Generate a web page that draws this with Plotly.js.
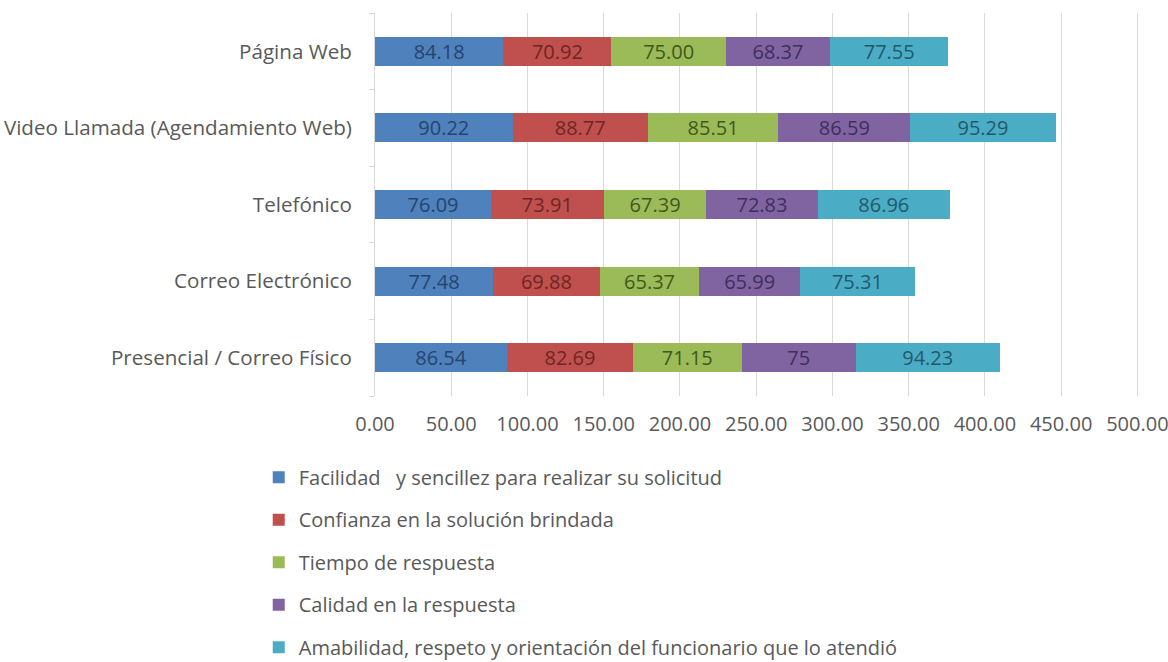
<!DOCTYPE html>
<html>
<head>
<meta charset="utf-8">
<script src="https://cdn.plot.ly/plotly-3.0.1.min.js"></script>
<style>html,body{margin:0;padding:0;background:#fff;}#chart{width:1168px;height:662px;}</style>
</head>
<body>
<div id="chart"></div>
<script>
// Categories (bottom to top)
const categories = ["Presencial / Correo Físico", "Correo Electrónico", "Telefónico", "Video Llamada (Agendamiento Web)", "Página Web"];

// Series values (as shown in the data labels)
const facilidad  = ["86.54", "77.48", "76.09", "90.22", "84.18"];
const confianza  = ["82.69", "69.88", "73.91", "88.77", "70.92"];
const tiempo     = ["71.15", "65.37", "67.39", "85.51", "75.00"];
const calidad    = ["75",    "65.99", "72.83", "86.59", "68.37"];
const amabilidad = ["94.23", "75.31", "86.96", "95.29", "77.55"];

const seriesNames = [
  "Facilidad\u00a0\u00a0\u00a0y sencillez para realizar su solicitud",
  "Confianza en la solución brindada",
  "Tiempo de respuesta",
  "Calidad en la respuesta",
  "Amabilidad, respeto y orientación del funcionario que lo atendió"
];

const xTickVals = [0, 50, 100, 150, 200, 250, 300, 350, 400, 450, 500];
const xTickText = ["0.00", "50.00", "100.00", "150.00", "200.00", "250.00", "300.00", "350.00", "400.00", "450.00", "500.00"];

const seriesData = [facilidad, confianza, tiempo, calidad, amabilidad];
const barColors = ["#4F81BD", "#C0504D", "#9BBB59", "#8064A2", "#4BACC6"];
const labelColors = ["#27446e", "#6e2624", "#41591c", "#3f2f5a", "#225a6a"];

const traces = seriesData.map((vals, i) => ({
  type: "bar",
  orientation: "h",
  name: seriesNames[i],
  legendgroup: "g" + i,
  y: categories,
  x: vals.map(Number),
  text: vals,
  textposition: "inside",
  insidetextanchor: "middle",
  textangle: 0,
  constraintext: "none",
  textfont: {family: "Open Sans", size: 20, color: labelColors[i]},
  marker: {color: barColors[i], line: {width: 0}},
  hoverinfo: "skip"
}));

const layout = {
  width: 1168,
  height: 662,
  margin: {l: 375, r: 23, t: 13, b: 266, pad: 0, autoexpand: false},
  paper_bgcolor: "#ffffff",
  plot_bgcolor: "#ffffff",
  barmode: "stack",
  bargap: 0.62,
  font: {family: "Open Sans", size: 20, color: "#595959"},
  showlegend: true,
  legend: {
    orientation: "v",
    x: -0.151, xanchor: "left",
    y: -0.161, yanchor: "top",
    traceorder: "grouped",
    tracegroupgap: 13.5,
    font: {family: "Open Sans", size: 20, color: "#595959"},
    bgcolor: "rgba(0,0,0,0)"
  },
  xaxis: {
    range: [0, 505],
    tickmode: "array",
    tickvals: xTickVals,
    ticktext: xTickText,
    showgrid: true,
    gridcolor: "#d9d9d9",
    gridwidth: 1,
    zeroline: false,
    showline: false,
    ticks: "",
    ticklabelstandoff: 14,
    ticklabeloverflow: "allow",
    tickfont: {family: "Open Sans", size: 20, color: "#595959"},
    fixedrange: true
  },
  yaxis: {
    type: "category",
    categoryorder: "array",
    categoryarray: categories,
    showline: true,
    linecolor: "#d9d9d9",
    linewidth: 1,
    ticks: "outside",
    tickson: "boundaries",
    ticklen: 5,
    tickcolor: "#d9d9d9",
    ticklabelstandoff: 18,
    ticklabeloverflow: "allow",
    showgrid: false,
    zeroline: false,
    tickfont: {family: "Open Sans", size: 20.6, color: "#595959"},
    fixedrange: true
  }
};

Plotly.newPlot("chart", traces, layout, {displayModeBar: false, staticPlot: true});
</script>
</body>
</html>
